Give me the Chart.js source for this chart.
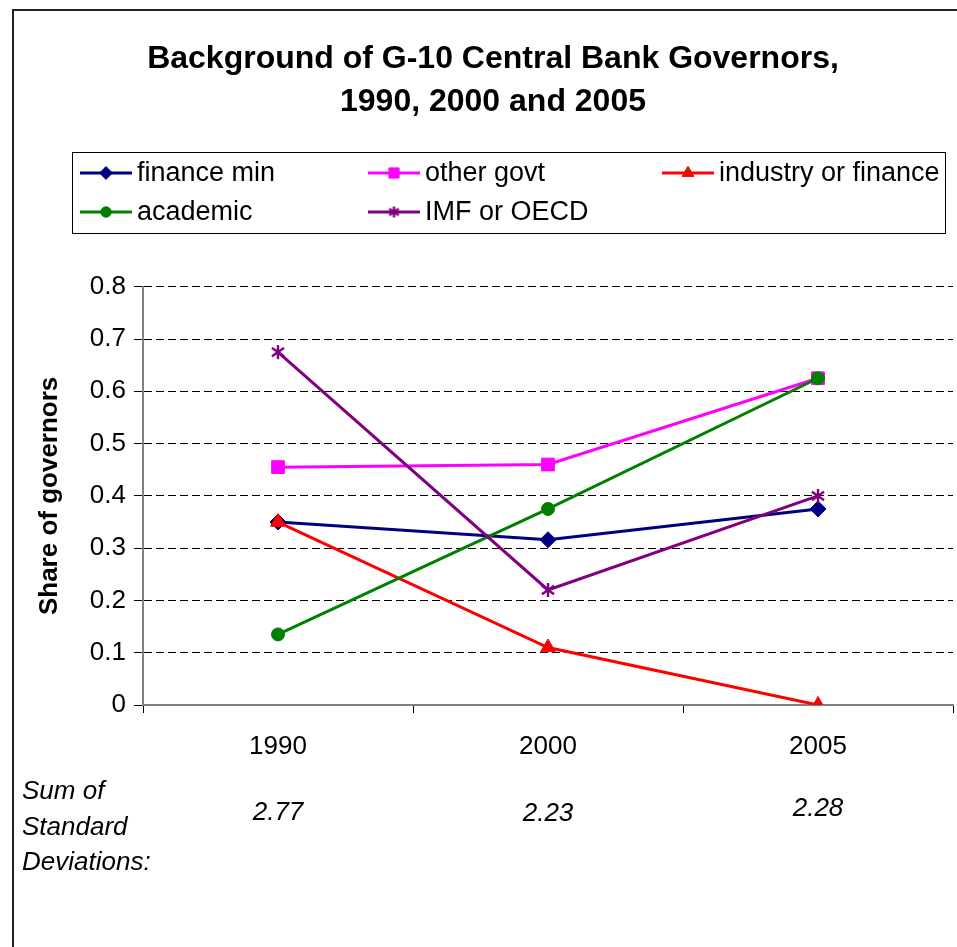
<!DOCTYPE html>
<html>
<head>
<meta charset="utf-8">
<script src="https://cdn.jsdelivr.net/npm/chart.js@4/dist/chart.umd.min.js"></script>
<style>
html,body{margin:0;padding:0;background:#fff;}
#wrap{width:957px;height:947px;}
</style>
</head>
<body>
<div id="wrap"><canvas id="c" width="957" height="947"></canvas></div>
<script>
// ---- data ----
const years = ['1990', '2000', '2005'];
const financeMin = [0.35, 0.316, 0.375];
const otherGovt = [0.455, 0.46, 0.625];
const industryOrFinance = [0.35, 0.11, 0];
const academic = [0.135, 0.375, 0.625];
const imfOrOecd = [0.675, 0.22, 0.4];
const sumStdDev = ['2.77', '2.23', '2.28'];
const sumStdDevLabel = ['Sum of', 'Standard', 'Deviations:'];
const titleLines = ['Background of G-10 Central Bank Governors,', '1990, 2000 and 2005'];
const yAxisTitle = 'Share of governors';

const FONT = "'Liberation Sans', Arial, Helvetica, sans-serif";

// Excel-like asterisk marker (vertical bar + X)
function asteriskMarker(color, size) {
  const c = document.createElement('canvas');
  c.width = size; c.height = size;
  const g = c.getContext('2d');
  const m = size / 2, r = size / 2 - 1;
  g.strokeStyle = color; g.lineWidth = 2.4; g.lineCap = 'butt';
  g.beginPath();
  g.moveTo(m, m - r); g.lineTo(m, m + r);
  const dx = r * 0.87, dy = r * 0.6;
  g.moveTo(m - dx, m - dy); g.lineTo(m + dx, m + dy);
  g.moveTo(m + dx, m - dy); g.lineTo(m - dx, m + dy);
  g.stroke();
  return c;
}

function ds(label, data, color, style, radius, order) {
  return {
    label, data, order,
    borderColor: color, backgroundColor: color,
    pointBackgroundColor: color, pointBorderColor: color,
    pointStyle: style, pointRadius: radius, pointHoverRadius: radius,
    pointBorderWidth: 1,
    borderWidth: 3, tension: 0, fill: false
  };
}

const datasets = [
  ds('finance min', financeMin, '#000080', 'rectRot', 8, 5),
  ds('other govt', otherGovt, '#FF00FF', 'rect', 9, 4),
  ds('industry or finance', industryOrFinance, '#FF0000', 'triangle', 8.5, 3),
  ds('academic', academic, '#008000', 'circle', 6.5, 2),
  ds('IMF or OECD', imfOrOecd, '#800080', asteriskMarker('#800080', 16), 8, 1)
];
const legendStar = asteriskMarker('#800080', 13);

const framePlugin = {
  id: 'frame',
  beforeDraw(chart) {
    const ctx = chart.ctx;
    ctx.save();
    ctx.fillStyle = '#fff';
    ctx.fillRect(0, 0, chart.width, chart.height);
    ctx.strokeStyle = '#222';
    ctx.lineWidth = 2;
    ctx.beginPath();
    ctx.moveTo(13, chart.height + 2);
    ctx.lineTo(13, 10);
    ctx.lineTo(chart.width + 2, 10);
    ctx.stroke();
    ctx.restore();
  }
};

const legendPlugin = {
  id: 'gridLegend',
  afterDraw(chart) {
    const ctx = chart.ctx;
    ctx.save();
    ctx.strokeStyle = '#000';
    ctx.lineWidth = 1;
    ctx.strokeRect(72.5, 152.5, 873, 81);
    const cols = [80, 368, 662];
    const rows = [173, 212];
    chart.data.datasets.forEach((d, i) => {
      const x = cols[i % 3], y = rows[Math.floor(i / 3)];
      ctx.strokeStyle = d.borderColor;
      ctx.lineWidth = 3;
      ctx.beginPath();
      ctx.moveTo(x, y); ctx.lineTo(x + 52, y);
      ctx.stroke();
      ctx.fillStyle = d.pointBackgroundColor;
      ctx.strokeStyle = d.pointBorderColor;
      ctx.lineWidth = d.pointBorderWidth;
      const style = typeof d.pointStyle === 'string' ? d.pointStyle : legendStar;
      Chart.helpers.drawPoint(ctx, {
        pointStyle: style, rotation: 0,
        borderWidth: d.pointBorderWidth, radius: d.pointRadius * 0.8
      }, x + 26, y);
      ctx.fillStyle = '#000';
      ctx.font = '27px ' + FONT;
      ctx.textAlign = 'left';
      ctx.textBaseline = 'middle';
      ctx.fillText(d.label, x + 57, y + 1);
    });
    ctx.restore();
  }
};

const sumPlugin = {
  id: 'sumStd',
  afterDraw(chart) {
    const ctx = chart.ctx;
    const xs = chart.scales.x;
    ctx.save();
    ctx.fillStyle = '#000';
    ctx.font = 'italic 26px ' + FONT;
    ctx.textBaseline = 'middle';
    ctx.textAlign = 'left';
    const ly = [792, 828, 863];
    sumStdDevLabel.forEach((t, i) => ctx.fillText(t, 22, ly[i]));
    ctx.textAlign = 'center';
    const vy = [813, 814, 809];
    sumStdDev.forEach((t, i) => ctx.fillText(t, xs.getPixelForValue(i), vy[i]));
    ctx.restore();
  }
};

new Chart(document.getElementById('c'), {
  type: 'line',
  data: { labels: years, datasets },
  plugins: [framePlugin, legendPlugin, sumPlugin],
  options: {
    responsive: false,
    animation: false,
    devicePixelRatio: 1,
    layout: { autoPadding: false, padding: { top: 0, left: 33, right: 4, bottom: 0 } },
    plugins: {
      legend: { display: false },
      tooltip: { enabled: false },
      title: {
        display: true,
        text: titleLines,
        color: '#000',
        font: { family: FONT, size: 32, weight: 'bold', lineHeight: 1.34 },
        padding: { top: 38, bottom: 163 }
      }
    },
    scales: {
      x: {
        type: 'category',
        offset: true,
        grid: {
          offset: true, drawOnChartArea: false, drawTicks: true,
          tickLength: 8, tickColor: '#000', tickWidth: 1
        },
        border: { display: true, color: '#808080', width: 2 },
        ticks: { color: '#000', font: { family: FONT, size: 26 }, padding: 18, maxRotation: 0 },
        afterFit(s) { s.height = 242; s.paddingLeft = 0; s.paddingRight = 0; }
      },
      y: {
        min: 0, max: 0.8,
        ticks: {
          stepSize: 0.1, color: '#000', padding: 8,
          font: { family: FONT, size: 26 },
          callback: v => (Math.abs(v) < 1e-9 ? '0' : (Math.round(v * 10) / 10).toString())
        },
        grid: {
          color: '#000', lineWidth: 1, tickLength: 9, tickColor: '#000',
          tickBorderDash: [8, 4]
        },
        border: { display: true, color: '#808080', width: 2, dash: [8, 4] },
        title: {
          display: true, text: yAxisTitle, color: '#000',
          font: { family: FONT, size: 26, weight: 'bold' },
          padding: { top: 1, bottom: 0 }
        },
        afterFit(s) { s.width = 110; }
      }
    }
  }
});
</script>
</body>
</html>
